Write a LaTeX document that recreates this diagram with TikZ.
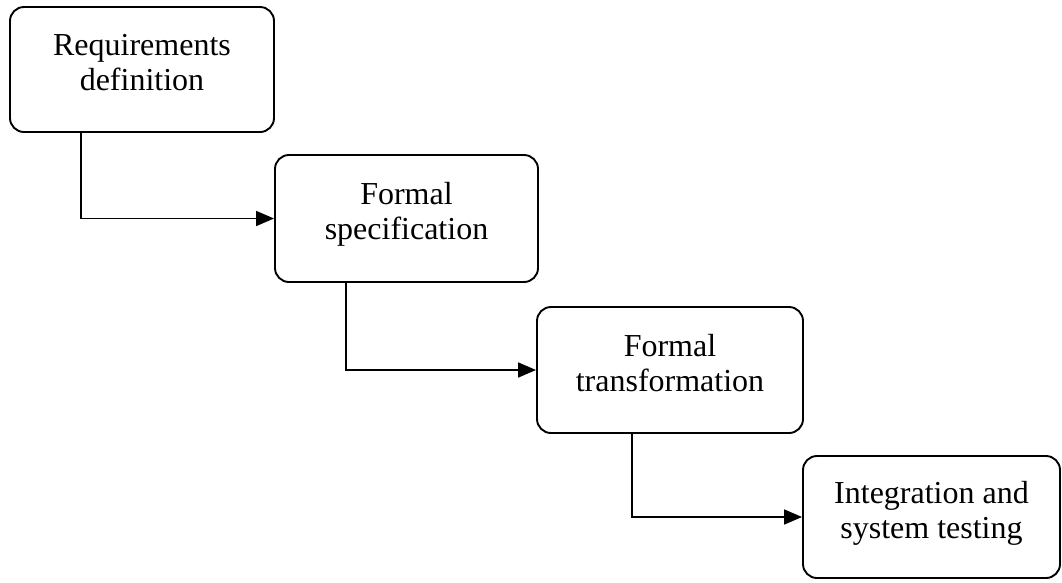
\documentclass[tikz,border=0pt]{standalone}
\usepackage{fontspec}
\setmainfont{Liberation Serif}
\usetikzlibrary{arrows.meta}
\begin{document}
\begin{tikzpicture}[x=1pt,y=-1pt,
  stage/.style={draw=black, line width=1.9pt, rounded corners=14pt, align=center,
    font=\fontsize{32}{35}\selectfont, inner sep=0pt, text depth=15pt, anchor=center},
  flow/.style={draw=black, line width=1.7pt, -{Triangle[length=18pt,width=15pt]}}]
\useasboundingbox (0,0) rectangle (1062,582);
\node[stage, minimum width=264pt, minimum height=125pt] (b1) at (142,69.5)
  {Requirements\\definition};
\node[stage, minimum width=263pt, minimum height=127pt] (b2) at (406.5,218.5)
  {Formal\\specification};
\node[stage, minimum width=266pt, minimum height=126pt] (b3) at (670,370)
  {Formal\\transformation};
\node[stage, minimum width=257pt, minimum height=122pt] (b4) at (931.5,517)
  {Integration and\\system testing};
\draw[flow] ([xshift=72pt]b1.south west) |- (b2.west);
\draw[flow] ([xshift=72pt]b2.south west) |- (b3.west);
\draw[flow] ([xshift=96pt]b3.south west) |- (b4.west);
\end{tikzpicture}
\end{document}
